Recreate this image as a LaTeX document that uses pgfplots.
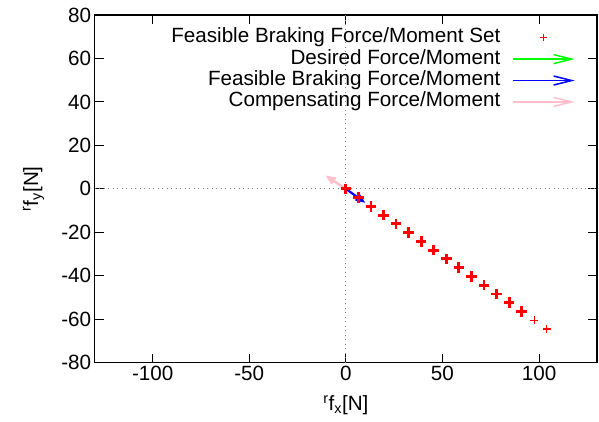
\documentclass[border=0pt]{standalone}
\usepackage{pgfplots}
\pgfplotsset{compat=1.18}
\usepackage{fontspec}
\setmainfont{Liberation Sans}
\usetikzlibrary{arrows.meta}
\definecolor{gpred}{RGB}{255,0,0}
\definecolor{gpgreen}{RGB}{0,255,0}
\definecolor{gpblue}{RGB}{0,0,255}
\definecolor{gppink}{RGB}{255,192,203}

\begin{document}
\begin{tikzpicture}[font=\fontsize{20.7}{22}\selectfont]
\begin{axis}[
  scale only axis,
  width=502.3bp, height=347.7bp,
  at={(94.7bp,59.3bp)}, anchor=south west,
  xmin=-130, xmax=130, ymin=-80, ymax=80,
  xtick={-100,-50,0,50,100},
  ytick={-80,-60,...,80},
  tick align=inside, xtick pos=both, ytick pos=both,
  major tick length=9bp,
  axis line style={line width=1.2bp},
  tick style={line width=1bp, black},
  /pgf/number format/assume math mode=true,
  xlabel={\textsuperscript{r}f\textsubscript{x}[N]},
  ylabel={\textsuperscript{r}f\textsubscript{y}[N]},
  xlabel style={at={(axis description cs:0.5,-0.122)}, anchor=center},
  ylabel style={at={(axis description cs:-0.122,0.5)}, anchor=center},
  extra x ticks={0}, extra y ticks={0},
  extra x tick labels={}, extra y tick labels={},
  extra tick style={grid=major, major tick length=0pt,
    major grid style={gray, line width=0.9bp, dash pattern=on 1bp off 3.5bp}},
  legend plot pos=right,
  legend cell align=right,
  legend style={draw=none, fill=none, at={(0.962,0.966)}, anchor=north east,
    row sep=0bp, inner sep=0pt,
    nodes={inner sep=1.2bp, text height=14.5bp, text depth=4.5bp}},
]
% legend entries
\addlegendimage{legend image code/.code={
  \draw[gpred, line width=1.1bp] (38.3bp,0bp) -- (45.7bp,0bp) (42bp,-3.7bp) -- (42bp,3.7bp);}}
\addlegendentry{Feasible Braking Force/Moment Set}
\addlegendimage{legend image code/.code={
  \path (0bp,0bp);
  \draw[gpgreen, line width=1.5bp, -{Straight Barb[length=18bp,width=9bp]}] (11bp,0bp) -- (73bp,0bp);}}
\addlegendentry{Desired Force/Moment}
\addlegendimage{legend image code/.code={
  \path (0bp,0bp);
  \draw[gpblue, line width=1.5bp, -{Straight Barb[length=18bp,width=9bp]}] (11bp,0bp) -- (73bp,0bp);}}
\addlegendentry{Feasible Braking Force/Moment}
\addlegendimage{legend image code/.code={
  \path (0bp,0bp);
  \draw[gppink, line width=1.5bp, -{Straight Barb[length=18bp,width=9bp]}] (11bp,0bp) -- (73bp,0bp);}}
\addlegendentry{Compensating Force/Moment}

% feasible set (overlapping points drawn bold)
\addplot[forget plot, only marks, mark=+, gpred, mark size=5.3bp, mark options={line width=2.8bp}] coordinates {
(0,0) (6.5,-4.0) (13,-8.1) (19.5,-12.1) (26,-16.1) (32.5,-20.2) (39,-24.2)
(45.5,-28.2) (52,-32.2) (58.5,-36.3) (65,-40.3) (71.5,-44.3) (78,-48.4)
(84.5,-52.4) (91,-56.4)
};
\addplot[forget plot, only marks, mark=+, gpred, mark size=4bp, mark options={line width=1.4bp}] coordinates {
(97.5,-60.5) (104,-64.5)
};

% vectors
\addplot[forget plot, gppink, line width=2.5bp, -{Straight Barb[length=7bp,width=6bp]},
  quiver={u=\thisrow{u}, v=\thisrow{v}}] table {
x y u v
0 0 -10.5 6.1
};
\addplot[forget plot, gpblue, line width=2.2bp, -{Straight Barb[length=7bp,width=6bp]},
  quiver={u=\thisrow{u}, v=\thisrow{v}}] table {
x y u v
0 0 10 -6.4
};
\end{axis}
\pgfresetboundingbox
\path (0,0) rectangle (599bp,422bp);
\end{tikzpicture}
\end{document}
